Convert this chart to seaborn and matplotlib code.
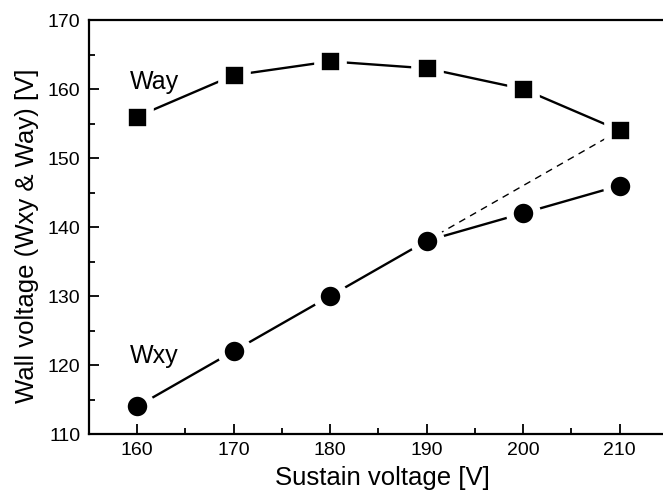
import matplotlib
matplotlib.use("Agg")
import matplotlib.pyplot as plt
import seaborn as sns
import pandas as pd
from matplotlib.ticker import MultipleLocator

sns.set_style("ticks")
plt.rcParams['font.family'] = ['Liberation Sans', 'DejaVu Sans']
plt.rcParams['text.color'] = 'black'
plt.rcParams['axes.labelcolor'] = 'black'

sustain = [160, 170, 180, 190, 200, 210]
way = [156, 162, 164, 163, 160, 154]
wxy = [114, 122, 130, 138, 142, 146]
dash_x = [190, 210]
dash_y = [138, 154]

fig = plt.figure(figsize=(6.63, 4.98), dpi=100)
ax = fig.add_axes([0.134, 0.1285, 0.8735, 0.8313])

df_way = pd.DataFrame({"x": sustain, "y": way})
df_wxy = pd.DataFrame({"x": sustain, "y": wxy})
df_dash = pd.DataFrame({"x": dash_x, "y": dash_y})

sns.lineplot(data=df_dash, x="x", y="y", ax=ax, color="black", lw=1.0,
             linestyle=(0, (5, 4)), zorder=1)
sns.lineplot(data=df_way, x="x", y="y", ax=ax, color="black", lw=1.7,
             marker="s", markersize=18, markeredgecolor="white",
             markeredgewidth=5.5, zorder=2)
sns.lineplot(data=df_wxy, x="x", y="y", ax=ax, color="black", lw=1.7,
             marker="o", markersize=19.5, markeredgecolor="white",
             markeredgewidth=5.5, zorder=2)

ax.set_xlim(155, 215)
ax.set_ylim(110, 170)
ax.xaxis.set_major_locator(MultipleLocator(10))
ax.xaxis.set_minor_locator(MultipleLocator(5))
ax.yaxis.set_major_locator(MultipleLocator(10))
ax.yaxis.set_minor_locator(MultipleLocator(5))
ax.tick_params(which="both", direction="in", top=False, right=False,
               width=1.3, labelsize=14, colors="black")
ax.tick_params(which="major", length=7, pad=6)
ax.tick_params(which="minor", length=4)
for s in ax.spines.values():
    s.set_linewidth(1.6)
    s.set_color("black")

ax.set_xlabel("Sustain voltage [V]", fontsize=18.5, labelpad=4.5, x=0.507,
              color="black")
ax.set_ylabel("Wall voltage (Wxy & Way) [V]", fontsize=18.5, labelpad=6.5,
              y=0.478, color="black")

ax.text(159.3, 160.0, "Way", fontsize=18, ha="left", va="baseline", color="black")
ax.text(159.3, 120.3, "Wxy", fontsize=18, ha="left", va="baseline", color="black")

fig.savefig("out.png", dpi=100)
